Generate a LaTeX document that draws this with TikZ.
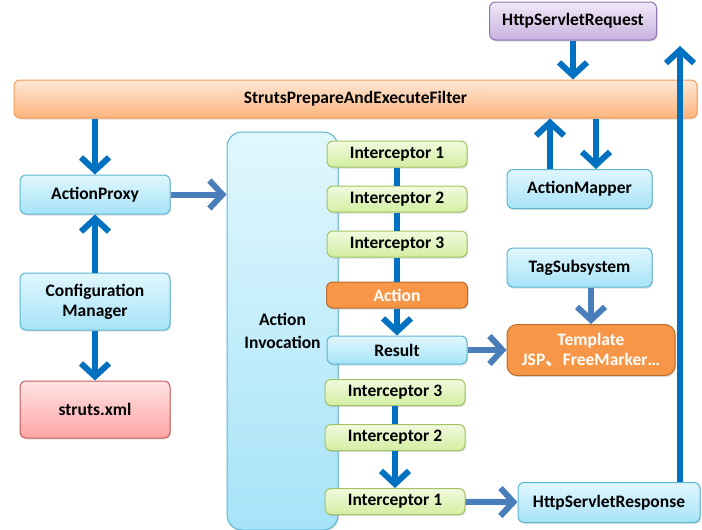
\documentclass[tikz,border=0pt]{standalone}
\usepackage{fontspec}
\setmainfont{Carlito}
\usepackage{tikz}
\usetikzlibrary{positioning,arrows.meta,shadows}

\definecolor{flowblue}{HTML}{0070C0}
\definecolor{passblue}{HTML}{4A7EBB}
\definecolor{cyanline}{HTML}{5BB6D2}
\definecolor{cyantop}{HTML}{E1F7FE}
\definecolor{cyanbot}{HTML}{A6E3F8}
\definecolor{peachline}{HTML}{F49B5A}
\definecolor{peachtop}{HTML}{FFE7D6}
\definecolor{peachbot}{HTML}{FDB57C}
\definecolor{lilacline}{HTML}{8F74B3}
\definecolor{lilactop}{HTML}{F0E8F8}
\definecolor{lilacbot}{HTML}{C8B2DF}
\definecolor{roseline}{HTML}{C65C59}
\definecolor{rosetop}{HTML}{FFE3E3}
\definecolor{rosebot}{HTML}{FFA4A4}
\definecolor{limeline}{HTML}{A3C464}
\definecolor{limetop}{HTML}{F1FADF}
\definecolor{limebot}{HTML}{D3EEA2}
\definecolor{actfill}{HTML}{F79646}
\definecolor{actline}{HTML}{B96D2F}

\begin{document}
\begin{tikzpicture}[x=1pt,y=1pt,
    every node/.style={on grid,node distance=45pt,inner sep=0pt,
      font=\fontsize{17.5}{20}\selectfont\bfseries},
    box/.style={draw,line width=1pt,rounded corners=6pt,
      drop shadow={opacity=0.25,shadow xshift=1pt,shadow yshift=-1.5pt}},
    cyanbox/.style={box,draw=cyanline,top color=cyantop,bottom color=cyanbot},
    limebox/.style={box,draw=limeline,top color=limetop,bottom color=limebot,
      minimum width=140pt,minimum height=26pt},
    actbox/.style={box,draw=actline,fill=actfill,text=white},
    flow/.style={line width=6pt,draw=flowblue,
      -{Straight Barb[length=13pt,width=28pt]}},
    pass/.style={flow,draw=passblue},
    link/.style={line width=6pt,draw=flowblue}]
    \useasboundingbox (0,0) rectangle (702,-530);

    % filter chain
    \node[box,draw=lilacline,top color=lilactop,bottom color=lilacbot,
      minimum width=167pt,minimum height=38pt] (req) at (573,-21) {HttpServletRequest};
    \node[box,draw=peachline,top color=peachtop,bottom color=peachbot,
      minimum width=683pt,minimum height=38pt] (filter) at (355.5,-99) {StrutsPrepareAndExecuteFilter};

    % left column
    \node[cyanbox,minimum width=150pt,minimum height=39pt] (proxy) at (95,-194.5) {ActionProxy};
    \node[cyanbox,minimum width=150pt,minimum height=57pt,align=center] (config) at (95,-301.5)
      {Configuration\\Manager};
    \node[box,draw=roseline,top color=rosetop,bottom color=rosebot,
      minimum width=150pt,minimum height=57pt] (xml) at (95,-409.5) {struts.xml};

    % invocation
    \node[cyanbox,rounded corners=15pt,minimum width=111pt,minimum height=398pt,
      align=center] (invoc) at (282.5,-331) {Action\\[3pt]Invocation};

    \node[limebox] (in1) at (397,-154) {Interceptor 1};
    \node[limebox,below of=in1] (in2) {Interceptor 2};
    \node[limebox,below of=in2] (in3) {Interceptor 3};
    \node[actbox,minimum width=141pt,minimum height=26pt] (action) at (397,-295) {Action};
    \node[cyanbox,minimum width=140pt,minimum height=28pt] (result) at (397,-350) {Result};
    \node[limebox] (out3) at (395,-392.5) {Interceptor 3};
    \node[limebox,below of=out3] (out2) {Interceptor 2};
    \node[limebox] (out1) at (395,-501.5) {Interceptor 1};

    % right column
    \node[cyanbox,minimum width=145pt,minimum height=39pt] (mapper) at (579.5,-189) {ActionMapper};
    \node[cyanbox,minimum width=145pt,minimum height=39pt] (tags) at (579.5,-267.5) {TagSubsystem};
    \node[actbox,rounded corners=10pt,minimum width=168pt,minimum height=51pt,
      align=center] (tmpl) at (591,-350) {Template\\JSP\fontspec{Noto Sans CJK SC}、\fontspec{Carlito}FreeMarker…};
    \node[cyanbox,minimum width=182pt,minimum height=40pt] (resp) at (609,-502.5) {HttpServletResponse};
    \coordinate (back) at (680,-46);

    % connectors
    \draw[flow] (req.south) -- (req.south |- filter.north);
    \draw[flow] (proxy.north |- filter.south) -- (proxy.north);
    \draw[pass] (proxy.east) -- (proxy.east -| invoc.west);
    \draw[flow] (config.north) -- (proxy.south);
    \draw[flow] (config.south) -- (xml.north);
    \draw[flow] ([xshift=-29.5pt]mapper.north) -- ([xshift=-29.5pt]mapper.north |- filter.south);
    \draw[flow] ([xshift=16.5pt]mapper.north |- filter.south) -- ([xshift=16.5pt]mapper.north);
    \draw[link] (in1) -- (in2) -- (in3) -- (action);
    \draw[flow] (action) -- (result);
    \draw[pass] (result) -- (tmpl);
    \draw[pass] (tmpl.north |- tags.south) -- (tmpl.north);
    \draw[link] (out3) -- (out2);
    \draw[flow] (out2) -- (out1);
    \draw[pass] (out1) -- (resp);
    \draw[flow] (resp.north -| back) -- (back);
  \end{tikzpicture}
\end{document}
